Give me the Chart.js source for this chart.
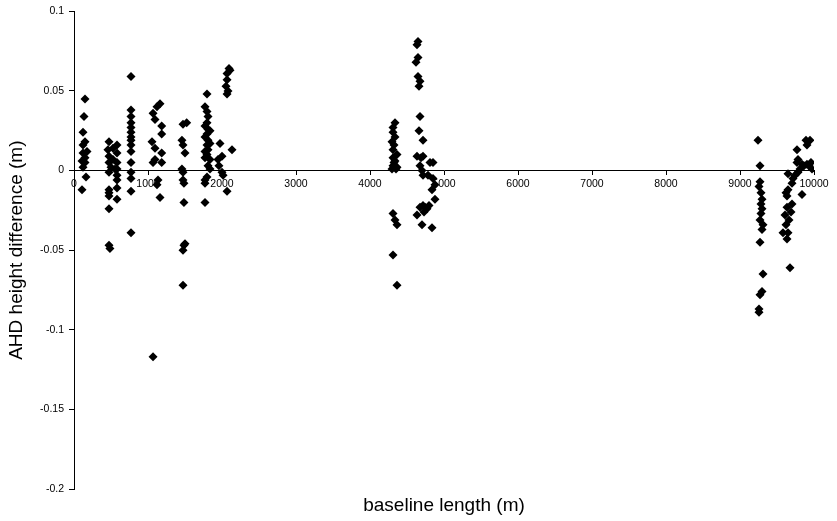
<!DOCTYPE html>
<html>
<head>
<meta charset="utf-8">
<script src="https://cdn.jsdelivr.net/npm/chart.js@4.4.1/dist/chart.umd.min.js"></script>
<style>
  html, body { margin: 0; padding: 0; background: #fff; }
</style>
</head>
<body>
<canvas id="chart" width="837" height="521"></canvas>
<script>
// baseline length (m) and AHD height difference (m), one cluster per line
const baselineLength = [
  108, 149, 135, 122, 149, 122, 122, 176, 149, 108, 149, 122, 162,
  473, 459, 581, 473, 581, 527, 473, 581, 554, 581, 581, 473, 473, 473, 581, 473, 473, 486, 527, 500, 581, 473, 581,
  770, 770, 770, 770, 770, 770, 770, 770, 770, 770, 770, 770, 770, 770, 770,
  1068, 1162, 1122, 1095, 1185, 1185, 1095, 1185, 1095, 1185, 1068, 1135, 1122, 1162, 1068, 1054,
  1523, 1473, 1459, 1473, 1500, 1459, 1473, 1473, 1486, 1486, 1500, 1486, 1473, 1473,
  1797, 1797, 1811, 1797, 1770, 1811, 1797, 1811, 1797, 1811, 1797, 1838, 1811, 1797, 1770, 1770, 1770, 1770, 1838, 1838, 1770, 1770, 1838, 1770,
  1973, 2135, 2000, 1946, 1959, 2000, 2014, 2068, 2108, 2068, 2068, 2054, 2081, 2068, 2095,
  4338, 4311, 4311, 4338, 4297, 4324, 4311, 4365, 4311, 4338, 4311, 4351, 4297, 4311, 4338, 4365, 4311, 4365, 4365, 4324,
  4649, 4635, 4649, 4622, 4649, 4676, 4662, 4676, 4662, 4716, 4635, 4689, 4716, 4676, 4703, 4716, 4784, 4811, 4851, 4851, 4878, 4838, 4878,
  4676, 4716, 4770, 4743, 4635, 4703, 4838, 4797, 4730,
  9243, 9270, 9270, 9257, 9284, 9297, 9284, 9297, 9284, 9270, 9311, 9297, 9270, 9311, 9297, 9270, 9257, 9257,
  9892, 9946, 9905, 9770, 9784, 9770, 9838, 9905, 9865, 9932, 9811, 9784, 9743, 9649, 9716, 9703, 9838, 9649, 9622, 9635,
  9703, 9635, 9689, 9608, 9662, 9622, 9581, 9649, 9635, 9676, 9973, 9959
];
const heightDiff = [
  -0.012, 0.045, 0.034, 0.024, 0.018, 0.016, 0.011, 0.012, 0.008, 0.006, 0.005, 0.002, -0.004,
  0.018, 0.013, 0.016, 0.009, 0.011, 0.007, 0.005, 0.005, 0.001, -0.003, -0.006, -0.012, -0.014, -0.016, -0.018, -0.024, -0.047, -0.049, 0.014, 0.002, 0.001, -0.001, -0.011,
  0.059, 0.038, 0.034, 0.030, 0.024, 0.019, 0.016, 0.012, 0.005, -0.001, -0.005, -0.013, -0.039, 0.021, 0.027,
  0.036, 0.042, 0.040, 0.032, 0.028, 0.023, 0.014, 0.011, 0.007, 0.005, 0.005, -0.006, -0.009, -0.017, -0.117, 0.018,
  0.030, 0.029, 0.019, 0.016, 0.011, 0.001, -0.001, -0.006, -0.008, -0.020, -0.046, -0.047, -0.050, -0.072,
  0.048, 0.037, 0.034, 0.030, 0.028, 0.026, 0.023, 0.019, 0.016, 0.013, 0.010, 0.007, 0.003, -0.004, -0.006, -0.008, -0.020, 0.021, 0.025, 0.017, 0.012, 0.008, 0.001, 0.040,
  0.017, 0.013, 0.009, 0.007, 0.003, -0.001, -0.003, -0.013, 0.063, 0.061, 0.057, 0.053, 0.050, 0.048, 0.064,
  0.030, 0.027, 0.024, 0.021, 0.018, 0.016, 0.013, 0.010, 0.008, 0.006, 0.003, 0.001, 0.001, -0.027, -0.031, -0.034, -0.053, -0.072, 0.002, 0.005,
  0.081, 0.079, 0.071, 0.068, 0.059, 0.056, 0.053, 0.034, 0.025, 0.019, 0.009, 0.008, 0.009, 0.003, 0.000, -0.003, -0.003, 0.005, 0.005, -0.005, -0.009, -0.012, -0.018,
  -0.023, -0.022, -0.024, -0.023, -0.028, -0.034, -0.036, -0.022, -0.026,
  0.019, 0.003, -0.007, -0.010, -0.014, -0.018, -0.021, -0.024, -0.027, -0.031, -0.034, -0.037, -0.045, -0.065, -0.076, -0.078, -0.087, -0.089,
  0.019, 0.019, 0.016, 0.013, 0.007, 0.005, 0.004, 0.004, 0.003, 0.003, 0.001, -0.001, -0.003, -0.002, -0.005, -0.008, -0.015, -0.012, -0.014, -0.016,
  -0.021, -0.023, -0.026, -0.028, -0.031, -0.034, -0.039, -0.039, -0.043, -0.061, 0.001, 0.005
];

const xTickValues = [0, 1000, 2000, 3000, 4000, 5000, 6000, 7000, 8000, 9000, 10000];
const yTickValues = [0.1, 0.05, 0, -0.05, -0.1, -0.15, -0.2];

const points = baselineLength.map((x, i) => ({ x: x, y: heightDiff[i] }));

const tickFont = { family: "'Liberation Sans', Arial, sans-serif", size: 10.5 };
const titleFont = { family: "'Liberation Sans', Arial, sans-serif", size: 19 };

const ctx = document.getElementById("chart").getContext("2d");

new Chart(ctx, {
  type: "scatter",
  data: {
    datasets: [
      {
        data: points,
        pointStyle: "rectRot",
        radius: 4.5,
        backgroundColor: "#000",
        borderColor: "#000",
        borderWidth: 0
      }
    ]
  },
  options: {
    responsive: false,
    animation: false,
    layout: { padding: { top: 8, right: 23, left: 0, bottom: 0 } },
    plugins: {
      legend: { display: false },
      tooltip: { enabled: false }
    },
    scales: {
      x: {
        type: "linear",
        min: 0,
        max: 10000,
        position: { y: 0 },
        afterBuildTicks: scale => {
          scale.ticks = xTickValues.map(v => ({ value: v }));
        },
        ticks: {
          color: "#000",
          font: tickFont,
          padding: 3,
          maxRotation: 0,
          autoSkip: false,
          callback: v => String(v)
        },
        grid: { display: true, drawOnChartArea: false, drawTicks: true, tickLength: 4, color: "#000" },
        border: { display: true, color: "#000", width: 1 }
      },
      xTitle: {
        type: "linear",
        axis: "x",
        position: "bottom",
        min: 0,
        max: 10000,
        ticks: { display: false },
        grid: { display: false },
        border: { display: false },
        title: { display: true, text: "baseline length (m)", color: "#000", font: titleFont, padding: { top: 0, bottom: 4 } },
        afterFit: scale => { scale.height = 32; }
      },
      y: {
        type: "linear",
        min: -0.2,
        max: 0.1,
        afterBuildTicks: scale => {
          scale.ticks = yTickValues.map(v => ({ value: v }));
        },
        ticks: {
          color: "#000",
          font: tickFont,
          padding: 5,
          callback: v => String(Math.round(v * 100) / 100)
        },
        grid: { display: true, drawOnChartArea: false, drawTicks: true, tickLength: 5, color: "#000" },
        border: { display: true, color: "#000", width: 1 },
        title: { display: true, text: "AHD height difference (m)", color: "#000", font: titleFont, padding: { top: 5, bottom: 0 } },
        afterFit: scale => { scale.width = 74; }
      }
    }
  }
});
</script>
</body>
</html>
